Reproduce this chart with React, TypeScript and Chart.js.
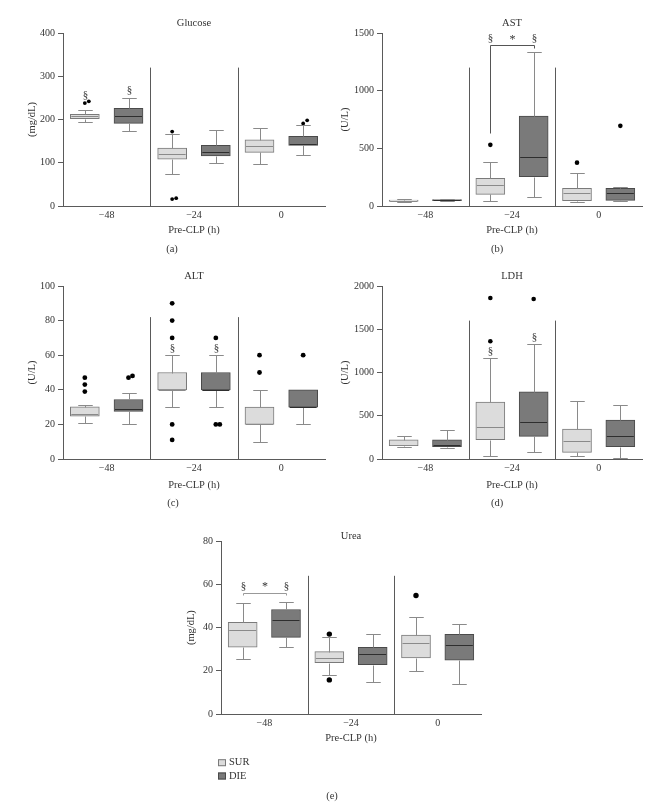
import React, { useEffect, useRef } from 'react';
import { Chart, registerables } from 'chart.js';

Chart.register(...registerables);

// ---------- DATA ----------
const GROUPS = ['\u221248', '\u221224', '0'];
const SERIES = ['SUR', 'DIE'];

// each box: [low whisker, Q1, median, Q3, high whisker]
const glucoseSUR = [[195, 202, 207, 212, 222], [74, 108, 120, 134, 166], [97, 124, 138, 153, 180]];
const glucoseDIE = [[174, 191, 208, 226, 249], [100, 116, 125, 140, 175], [117, 140, 144, 161, 187]];
const glucoseSUROut = [[238, 242], [172, 16, 18], []];
const glucoseDIEOut = [[], [], [191, 198]];

const astSUR = [[35, 40, 45, 52, 58], [46, 101, 182, 240, 385], [35, 46, 116, 153, 284]];
const astDIE = [[42, 46, 50, 55, 60], [78, 255, 423, 779, 1335], [43, 49, 110, 153, 162]];
const astSUROut = [[], [530], [376]];
const astDIEOut = [[], [], [695]];

const altSUR = [[21, 24.8, 26, 30.2, 31], [30, 40, 40, 50, 60], [10, 20, 20, 30, 40]];
const altDIE = [[20, 27.5, 29, 34.4, 38], [30, 40, 40, 50, 60], [20, 30, 30, 40, 40]];
const altSUROut = [[39, 43, 47], [90, 80, 70, 20, 11], [60, 50]];
const altDIEOut = [[47, 48], [70, 20, 20], [60]];

const ldhSUR = [[135, 155, 162, 222, 269], [35, 223, 369, 658, 1162], [31, 77, 212, 346, 669]];
const ldhDIE = [[123, 142, 165, 223, 338], [81, 262, 423, 777, 1331], [8, 142, 269, 450, 619]];
const ldhSUROut = [[], [1362, 1862], []];
const ldhDIEOut = [[], [1850], []];

const ureaSUR = [[25.5, 31, 38.8, 42.4, 51.2], [17.9, 23.8, 25.8, 28.9, 35.6], [20, 26, 32.9, 36.6, 44.8]];
const ureaDIE = [[30.9, 35.5, 43.3, 48.4, 51.9], [14.9, 22.9, 27.8, 30.9, 36.9], [13.9, 24.9, 31.9, 36.9, 41.9]];
const ureaSUROut = [[], [37, 15.8], [54.9]];
const ureaDIEOut = [[], [], []];

// significance marks: group index, series (0 SUR, 1 DIE, 0.5 between), value
const glucoseMarks = [
  { group: 0, series: 0, value: 257, text: '\u00a7' },
  { group: 0, series: 1, value: 269, text: '\u00a7' },
];
const astMarks = [
  { group: 1, series: 0, value: 1457, text: '\u00a7' },
  { group: 1, series: 1, value: 1457, text: '\u00a7' },
  { group: 1, series: 0.5, value: 1440, text: '*' },
];
const altMarks = [
  { group: 1, series: 0, value: 64, text: '\u00a7' },
  { group: 1, series: 1, value: 64, text: '\u00a7' },
];
const ldhMarks = [
  { group: 1, series: 0, value: 1246, text: '\u00a7' },
  { group: 1, series: 1, value: 1412, text: '\u00a7' },
];
const ureaMarks = [
  { group: 0, series: 0, value: 59.4, text: '\u00a7' },
  { group: 0, series: 1, value: 59.4, text: '\u00a7' },
  { group: 0, series: 0.5, value: 59, text: '*' },
];
const astBracket = { group: 1, top: 1393, leftEnd: 631, rightEnd: 1370 };
const ureaBracket = { group: 0, top: 56.2, leftEnd: 55.3, rightEnd: 55.3 };

// ---------- STYLE / LAYOUT ----------
const FONT = "'Liberation Serif', 'DejaVu Serif', 'Times New Roman', serif";
const TEXT = '#333333';
const AXIS = '#5a5a5a';
const SUR_FILL = '#dcdcdc';
const SUR_BORDER = '#7a7a7a';
const SUR_MED = '#8a8a8a';
const DIE_FILL = '#7a7a7a';
const DIE_BORDER = '#4a4a4a';
const DIE_MED = '#2e2e2e';
const WHISKER = '#8a8a8a';
const W = 661;
const H = 811;
const SLOT = 0.25; // half distance between the two boxes of a group, in group units
const BOX_FRACTION = 0.335; // box width as a fraction of one group's width

type Layout = {
  plotLeft: number; plotTop: number; plotRight: number; plotBottom: number;
  titleY: number; yTitleX: number; xTitleY: number; labelX: number; labelY: number;
  sepTop: number; dot: number; bracketColor?: string;
};

type PanelDef = {
  key: string; title: string; unit: string; max: number; step: number;
  sur: number[][]; die: number[][]; surOut: number[][]; dieOut: number[][];
  marks: { group: number; series: number; value: number; text: string }[];
  bracket?: { group: number; top: number; leftEnd: number; rightEnd: number };
  label: string; legend?: boolean; layout: Layout;
};

const PANELS: PanelDef[] = [
  {
    key: 'glucose', title: 'Glucose', unit: '(mg/dL)', max: 400, step: 100,
    sur: glucoseSUR, die: glucoseDIE, surOut: glucoseSUROut, dieOut: glucoseDIEOut,
    marks: glucoseMarks, label: '(a)',
    layout: { plotLeft: 63, plotTop: 33, plotRight: 325, plotBottom: 206, titleY: 23, yTitleX: 32, xTitleY: 230, labelX: 172, labelY: 249, sepTop: 320, dot: 1.9 },
  },
  {
    key: 'ast', title: 'AST', unit: '(U/L)', max: 1500, step: 500,
    sur: astSUR, die: astDIE, surOut: astSUROut, dieOut: astDIEOut,
    marks: astMarks, bracket: astBracket, label: '(b)',
    layout: { plotLeft: 382, plotTop: 33, plotRight: 642, plotBottom: 206, titleY: 23, yTitleX: 345, xTitleY: 230, labelX: 497, labelY: 249, sepTop: 1200, dot: 2.3, bracketColor: '#555555' },
  },
  {
    key: 'alt', title: 'ALT', unit: '(U/L)', max: 100, step: 20,
    sur: altSUR, die: altDIE, surOut: altSUROut, dieOut: altDIEOut,
    marks: altMarks, label: '(c)',
    layout: { plotLeft: 63, plotTop: 286, plotRight: 325, plotBottom: 459, titleY: 276, yTitleX: 32, xTitleY: 485, labelX: 173, labelY: 503, sepTop: 82, dot: 2.4 },
  },
  {
    key: 'ldh', title: 'LDH', unit: '(U/L)', max: 2000, step: 500,
    sur: ldhSUR, die: ldhDIE, surOut: ldhSUROut, dieOut: ldhDIEOut,
    marks: ldhMarks, label: '(d)',
    layout: { plotLeft: 382, plotTop: 286, plotRight: 642, plotBottom: 459, titleY: 276, yTitleX: 345, xTitleY: 485, labelX: 497, labelY: 503, sepTop: 1600, dot: 2.3 },
  },
  {
    key: 'urea', title: 'Urea', unit: '(mg/dL)', max: 80, step: 20,
    sur: ureaSUR, die: ureaDIE, surOut: ureaSUROut, dieOut: ureaDIEOut,
    marks: ureaMarks, bracket: ureaBracket, label: '(e)', legend: true,
    layout: { plotLeft: 221, plotTop: 541, plotRight: 481, plotBottom: 714, titleY: 536, yTitleX: 191, xTitleY: 738, labelX: 332, labelY: 796, sepTop: 64, dot: 2.7, bracketColor: '#999999' },
  },
];

const LEGEND_POS = { x: 218, ys: [762.7, 776], boxW: 8, boxH: 7, textX: 229 };

const seriesX = (g: number, s: number) => g + (s === 0 ? -SLOT : SLOT);

function boxData(stats: number[][], s: number) {
  return stats.map((b, g) => ({ x: seriesX(g, s), y: [b[1], b[3]] }));
}

function outlierPoints(list: number[][], s: number, max: number, dx: number) {
  const pts: { x: number; y: number }[] = [];
  list.forEach((vals, g) => {
    const placed: number[] = [];
    vals.forEach((v) => {
      const near = placed.filter((u) => Math.abs(u - v) < max * 0.03).length;
      pts.push({ x: seriesX(g, s) + near * dx, y: v });
      placed.push(v);
    });
  });
  return pts;
}

function makePlugin(p: PanelDef) {
  return {
    id: 'boxplot-' + p.key,
    afterDatasetsDraw(chart: any) {
      const ctx: CanvasRenderingContext2D = chart.ctx;
      const ys = chart.scales.y;
      const xs = chart.scales.x;
      const area = chart.chartArea;
      const L = p.layout;
      const line = (x1: number, y1: number, x2: number, y2: number) => {
        ctx.beginPath();
        ctx.moveTo(x1, y1);
        ctx.lineTo(x2, y2);
        ctx.stroke();
      };
      const snap = (v: number) => Math.round(v) + 0.5;
      ctx.save();
      ctx.lineWidth = 1;
      // group separators
      ctx.strokeStyle = AXIS;
      for (let i = 0; i < GROUPS.length - 1; i++) {
        const bx = snap(xs.getPixelForValue(i + 0.5));
        line(bx, area.bottom, bx, ys.getPixelForValue(L.sepTop));
      }
      // whiskers and medians
      const centers: number[][] = [[], []];
      [p.sur, p.die].forEach((stats, s) => {
        const meta = chart.getDatasetMeta(s);
        stats.forEach((b, g) => {
          const el: any = meta.data[g];
          const cx = snap(el.x);
          centers[s][g] = cx;
          const w = el.width;
          const cap = w * 0.5;
          const py = (v: number) => snap(ys.getPixelForValue(v));
          ctx.strokeStyle = WHISKER;
          if (b[4] > b[3]) {
            line(cx, py(b[3]), cx, py(b[4]));
            line(cx - cap / 2, py(b[4]), cx + cap / 2, py(b[4]));
          }
          if (b[0] < b[1]) {
            line(cx, py(b[1]), cx, py(b[0]));
            line(cx - cap / 2, py(b[0]), cx + cap / 2, py(b[0]));
          }
          ctx.strokeStyle = s === 0 ? SUR_MED : DIE_MED;
          line(el.x - w / 2 + 1, py(b[2]), el.x + w / 2 - 1, py(b[2]));
        });
      });
      // brackets
      if (p.bracket) {
        const br = p.bracket;
        const x1 = centers[0][br.group];
        const x2 = centers[1][br.group];
        ctx.strokeStyle = L.bracketColor || AXIS;
        const yt = snap(ys.getPixelForValue(br.top));
        ctx.beginPath();
        ctx.moveTo(x1, snap(ys.getPixelForValue(br.leftEnd)));
        ctx.lineTo(x1, yt);
        ctx.lineTo(x2, yt);
        ctx.lineTo(x2, snap(ys.getPixelForValue(br.rightEnd)));
        ctx.stroke();
      }
      // significance marks
      ctx.fillStyle = TEXT;
      ctx.textAlign = 'center';
      ctx.textBaseline = 'middle';
      p.marks.forEach((m) => {
        const x = m.series === 0.5 ? (centers[0][m.group] + centers[1][m.group]) / 2 : centers[m.series][m.group];
        ctx.font = (m.text === '*' ? '12px ' : '11px ') + FONT;
        ctx.fillText(m.text, x, ys.getPixelForValue(m.value));
      });
      // panel label
      ctx.font = '10.5px ' + FONT;
      ctx.fillText(p.label, L.labelX, L.labelY);
      // legend
      if (p.legend) {
        const items = Chart.defaults.plugins.legend.labels.generateLabels(chart).filter((it: any) => it.datasetIndex < 2);
        items.forEach((it: any, i: number) => {
          const cy = LEGEND_POS.ys[i];
          ctx.fillStyle = it.fillStyle;
          ctx.fillRect(LEGEND_POS.x, cy - LEGEND_POS.boxH / 2, LEGEND_POS.boxW, LEGEND_POS.boxH);
          ctx.strokeStyle = it.strokeStyle;
          ctx.strokeRect(LEGEND_POS.x + 0.5, cy - LEGEND_POS.boxH / 2 + 0.5, LEGEND_POS.boxW - 1, LEGEND_POS.boxH - 1);
          ctx.fillStyle = TEXT;
          ctx.textAlign = 'left';
          ctx.font = '10.5px ' + FONT;
          ctx.fillText(it.text, LEGEND_POS.textX, cy);
        });
      }
      ctx.restore();
    },
  };
}

function buildConfig(p: PanelDef): any {
  const L = p.layout;
  const half = 5.25;
  const padTop = L.titleY - half;
  const titleBottom = Math.max(0, L.plotTop - padTop - 10.5);
  const padLeft = L.yTitleX - half;
  const yWidth = L.plotLeft - padLeft;
  const xHeight = L.xTitleY + half - L.plotBottom;
  const padBottom = H - L.plotBottom - xHeight;
  const groupPx = (L.plotRight - L.plotLeft) / GROUPS.length;
  const dx = 4 / groupPx;
  const thickness = Math.round(groupPx * BOX_FRACTION);
  return {
    type: 'bar',
    data: {
      datasets: [
        {
          label: SERIES[0],
          data: boxData(p.sur, 0),
          backgroundColor: SUR_FILL, borderColor: SUR_BORDER, borderWidth: 1, borderSkipped: false,
          grouped: false, barThickness: thickness,
        },
        {
          label: SERIES[1],
          data: boxData(p.die, 1),
          backgroundColor: DIE_FILL, borderColor: DIE_BORDER, borderWidth: 1, borderSkipped: false,
          grouped: false, barThickness: thickness,
        },
        {
          type: 'scatter', label: SERIES[0] + ' outliers',
          data: outlierPoints(p.surOut, 0, p.max, dx),
          pointRadius: L.dot, pointBackgroundColor: '#000', pointBorderWidth: 0,
        },
        {
          type: 'scatter', label: SERIES[1] + ' outliers',
          data: outlierPoints(p.dieOut, 1, p.max, dx),
          pointRadius: L.dot, pointBackgroundColor: '#000', pointBorderWidth: 0,
        },
      ],
    },
    options: {
      responsive: false,
      animation: false,
      events: [],
      layout: { padding: { top: padTop, left: padLeft, right: W - L.plotRight, bottom: padBottom } },
      plugins: {
        legend: { display: false },
        tooltip: { enabled: false },
        title: {
          display: true, text: p.title, fullSize: false, color: TEXT,
          font: { family: FONT, size: 10.5, weight: 'normal', lineHeight: 1 },
          padding: { top: 0, bottom: titleBottom },
        },
      },
      scales: {
        x: {
          type: 'linear', position: 'bottom', offset: false,
          min: -0.5, max: GROUPS.length - 0.5,
          grid: { display: false, drawTicks: false, offset: false },
          border: { display: true, color: AXIS, width: 1 },
          afterBuildTicks: (s: any) => { s.ticks = GROUPS.map((_, i) => ({ value: i })); },
          ticks: { color: TEXT, font: { family: FONT, size: 10 }, padding: 3, maxRotation: 0, autoSkip: false, callback: (v: any) => GROUPS[Math.round(v)] ?? '' },
          title: { display: true, text: 'Pre-CLP (h)', color: TEXT, font: { family: FONT, size: 10.5, lineHeight: 1 }, padding: 0 },
          afterFit: (s: any) => { s.height = xHeight; },
        },
        y: {
          type: 'linear', min: 0, max: p.max, position: 'left',
          grid: { display: true, drawOnChartArea: false, drawTicks: true, tickLength: 5, color: AXIS },
          border: { display: true, color: AXIS, width: 1 },
          ticks: { stepSize: p.step, color: TEXT, font: { family: FONT, size: 10 }, padding: 3, callback: (v: any) => String(v) },
          title: { display: true, text: p.unit, color: TEXT, font: { family: FONT, size: 10.5, lineHeight: 1 }, padding: 0 },
          afterFit: (s: any) => { s.width = yWidth; },
        },
      },
    },
    plugins: [makePlugin(p)],
  };
}

function PanelChart({ panel }: { panel: PanelDef }) {
  const ref = useRef<HTMLCanvasElement>(null);
  useEffect(() => {
    if (!ref.current) return;
    const chart = new Chart(ref.current, buildConfig(panel));
    return () => chart.destroy();
  }, [panel]);
  return (
    <canvas
      ref={ref}
      width={W}
      height={H}
      style={{ position: 'absolute', left: 0, top: 0, width: W, height: H }}
    />
  );
}

export default function App() {
  return (
    <div style={{ position: 'absolute', left: 0, top: 0, width: W, height: H, background: '#ffffff', overflow: 'hidden' }}>
      {PANELS.map((p) => (
        <PanelChart key={p.key} panel={p} />
      ))}
    </div>
  );
}
